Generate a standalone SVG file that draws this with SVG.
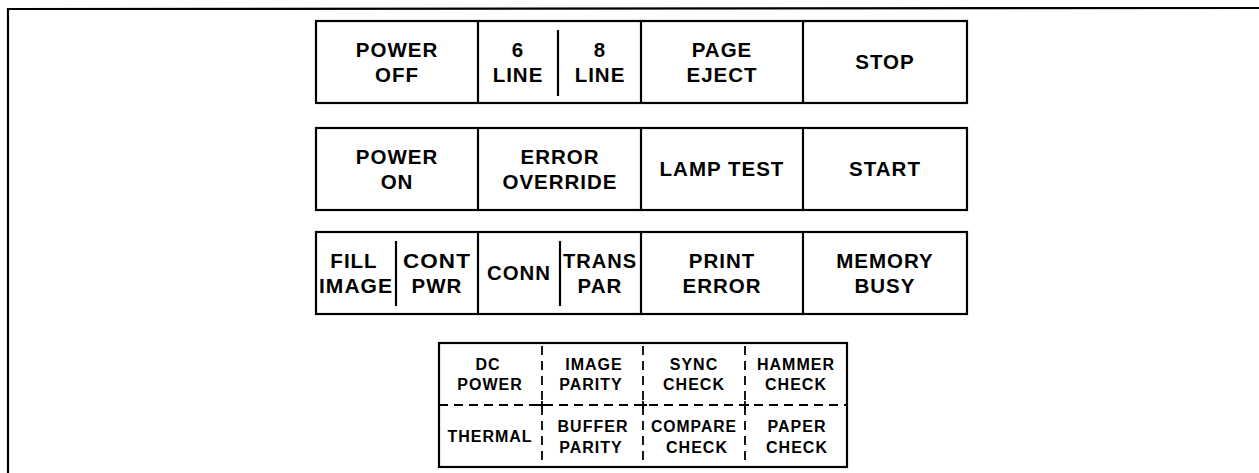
<svg xmlns="http://www.w3.org/2000/svg" width="1259" height="473" viewBox="0 0 1259 473">
<style>
.box{fill:#fff;stroke:#000;stroke-width:2.2}
.div{stroke:#000;stroke-width:2.2;fill:none}
.dash{stroke:#000;stroke-width:1.8;fill:none;stroke-dasharray:9 6}
.tick{stroke:#000;stroke-width:1.8;fill:none}
text{font-family:"Liberation Sans",Arial,sans-serif;fill:#000;text-anchor:middle;font-weight:bold}
.t{font-size:20.5px;letter-spacing:1px}
.s{font-size:16px;letter-spacing:1px}
</style>
<rect width="1259" height="473" fill="#fff"/>
<g id="frame"><polyline class="div" points="8,473 8,9 1259,8"/></g>
<g id="row1">
<rect class="box" x="316" y="21" width="651" height="82"/>
<line class="div" x1="478" y1="21" x2="478" y2="103"/>
<line class="div" x1="641" y1="21" x2="641" y2="103"/>
<line class="div" x1="803" y1="21" x2="803" y2="103"/>
<line class="div" x1="558" y1="30" x2="558" y2="96"/>
</g>
<g id="power-off" class="t"><text x="397" y="57">POWER</text><text x="397" y="82">OFF</text></g>
<g id="six-line" class="t"><text x="518" y="57">6</text><text x="518" y="82">LINE</text></g>
<g id="eight-line" class="t"><text x="600" y="57">8</text><text x="600" y="82">LINE</text></g>
<g id="page-eject" class="t"><text x="722" y="57">PAGE</text><text x="722" y="82">EJECT</text></g>
<g id="stop" class="t"><text x="885" y="69">STOP</text></g>
<g id="row2">
<rect class="box" x="316" y="128" width="651" height="82"/>
<line class="div" x1="478" y1="128" x2="478" y2="210"/>
<line class="div" x1="641" y1="128" x2="641" y2="210"/>
<line class="div" x1="803" y1="128" x2="803" y2="210"/>
</g>
<g id="power-on" class="t"><text x="397" y="164">POWER</text><text x="397" y="189">ON</text></g>
<g id="error-override" class="t"><text x="560" y="164">ERROR</text><text x="560" y="189">OVERRIDE</text></g>
<g id="lamp-test" class="t"><text x="722" y="176">LAMP TEST</text></g>
<g id="start" class="t"><text x="885" y="176">START</text></g>
<g id="row3">
<rect class="box" x="316" y="232" width="651" height="82"/>
<line class="div" x1="478" y1="232" x2="478" y2="314"/>
<line class="div" x1="641" y1="232" x2="641" y2="314"/>
<line class="div" x1="803" y1="232" x2="803" y2="314"/>
<line class="div" x1="396" y1="241" x2="396" y2="306"/>
<line class="div" x1="560" y1="241" x2="560" y2="306"/>
</g>
<g id="fill-image" class="t"><text x="354" y="268">FILL</text><text x="356" y="293" textLength="74" lengthAdjust="spacingAndGlyphs">IMAGE</text></g>
<g id="cont-pwr" class="t"><text x="437" y="268" textLength="68" lengthAdjust="spacingAndGlyphs">CONT</text><text x="437" y="293">PWR</text></g>
<g id="conn" class="t"><text x="519" y="280" textLength="64" lengthAdjust="spacingAndGlyphs">CONN</text></g>
<g id="trans-par" class="t"><text x="600" y="268" textLength="74" lengthAdjust="spacingAndGlyphs">TRANS</text><text x="600" y="293">PAR</text></g>
<g id="print-error" class="t"><text x="722" y="268">PRINT</text><text x="722" y="293">ERROR</text></g>
<g id="memory-busy" class="t"><text x="885" y="268">MEMORY</text><text x="885" y="293">BUSY</text></g>
<g id="panel4">
<rect class="box" x="439" y="343" width="408" height="124"/>
<line class="dash" x1="439" y1="405" x2="847" y2="405"/>
<line class="dash" x1="542" y1="346" x2="542" y2="467"/>
<line class="dash" x1="643" y1="346" x2="643" y2="467"/>
<line class="dash" x1="745" y1="346" x2="745" y2="467"/>
<path class="tick" d="M538,405H546M542,401V409M639,405H647M643,401V409M741,405H749M745,401V409"/>
</g>
<g id="dc-power" class="s"><text x="488" y="370">DC</text><text x="490" y="390">POWER</text></g>
<g id="image-parity" class="s"><text x="594" y="370">IMAGE</text><text x="591" y="390">PARITY</text></g>
<g id="sync-check" class="s"><text x="694" y="370">SYNC</text><text x="694" y="390">CHECK</text></g>
<g id="hammer-check" class="s"><text x="796" y="370">HAMMER</text><text x="796" y="390">CHECK</text></g>
<g id="thermal" class="s"><text x="490" y="442">THERMAL</text></g>
<g id="buffer-parity" class="s"><text x="593" y="432">BUFFER</text><text x="591" y="453">PARITY</text></g>
<g id="compare-check" class="s"><text x="694" y="432" textLength="86" lengthAdjust="spacingAndGlyphs">COMPARE</text><text x="697" y="453">CHECK</text></g>
<g id="paper-check" class="s"><text x="797" y="432">PAPER</text><text x="797" y="453">CHECK</text></g>
</svg>
